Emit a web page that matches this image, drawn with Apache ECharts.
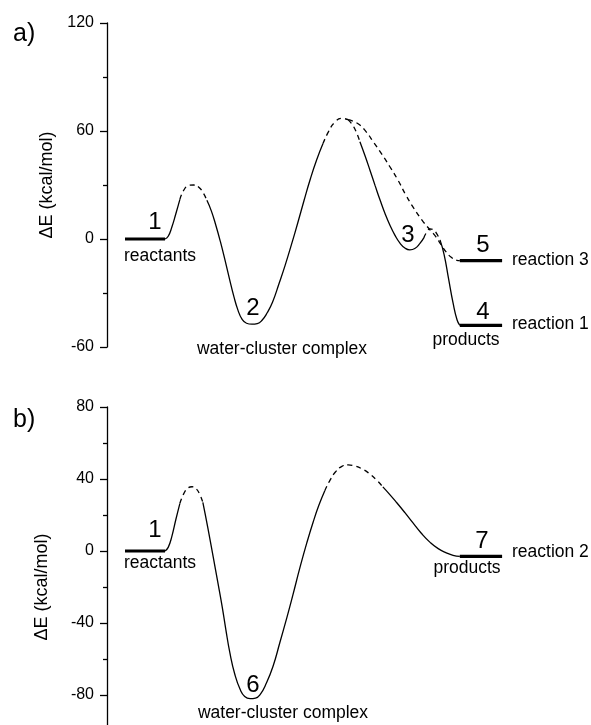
<!DOCTYPE html>
<html>
<head>
<meta charset="utf-8">
<script src="https://cdn.jsdelivr.net/npm/echarts@6/dist/echarts.min.js"></script>
<style>
  html, body { margin: 0; padding: 0; background: #fff; }
  #chart { width: 591px; height: 725px; }
</style>
</head>
<body>
<div id="chart"></div>
<script>
// reaction coordinate (0..100), energy in kcal/mol

// panel a) reactions 1 and 3
const aReactants = [[4.0, 0], [12.9, 0]]
const aLevel4 = [[78.4, -48], [87.8, -48]]
const aLevel5 = [[78.4, -12], [87.8, -12]]

const aRise1 = [[12.9, 0], [13.6, 1.5], [14.4, 6.5], [15.3, 14], [16.2, 22]]
const aTs1 = [[16.2, 22], [17.1, 27.3], [18.2, 29.8], [19.3, 30], [20.4, 28.8], [21.4, 25.5], [22.2, 21.5]]
const aWell2 = [[22.2, 21.5], [23.2, 15.5], [24.2, 7.5], [25.2, -1.5], [26.2, -11.5], [27.2, -22],
  [28.2, -32], [29.1, -39.5], [30.0, -44.5], [31.0, -46.8], [32.2, -47.3], [33.4, -47], [34.5, -45],
  [35.6, -41], [36.8, -35], [38.2, -25], [39.6, -14.5], [41.0, -3], [42.4, 9], [43.8, 21.5],
  [45.2, 33.5], [46.6, 44], [48.0, 53]]
const aTs2 = [[48.0, 53], [49.2, 59.5], [50.6, 64.8], [52.2, 67], [53.6, 66.3]]
const aTs2r1 = [[53.6, 66.3], [54.9, 62], [56.2, 54]]
const aWell3 = [[56.2, 54], [57.3, 46.5], [58.4, 38.5], [59.6, 29.5], [60.7, 21.5], [61.8, 14],
  [62.9, 7.5], [64.0, 2], [65.1, -2.3], [66.2, -5], [67.3, -6], [68.4, -5.3], [69.5, -2.6], [70.4, 0.6]]
const aTs3 = [[70.4, 0.6], [71.1, 4], [71.8, 5.6], [72.6, 5], [73.3, 2.8], [74.0, -0.5]]
const aDrop4 = [[74.0, -0.5], [74.9, -8.5], [75.9, -22], [76.9, -35.5], [77.8, -45], [78.4, -48]]
const aPath5 = [[53.6, 66.3], [55.8, 64], [57.6, 59.5], [59.3, 53.5], [61.1, 47], [62.9, 40], [64.7, 32.5],
  [66.4, 24.5], [68.2, 17], [70.0, 10.5], [71.8, 5], [73.1, 1.2], [74.2, -3], [75.3, -7],
  [76.5, -10.2], [77.6, -11.7], [78.4, -12]]

// panel b) reaction 2
const bReactants = [[4.0, 0], [12.9, 0]]
const bLevel7 = [[78.4, -3], [87.8, -3]]

const bRise1 = [[12.9, 0], [13.6, 2], [14.4, 8], [15.3, 17.5], [16.2, 26.5]]
const bTs1 = [[16.2, 26.5], [17.1, 32], [18.0, 35], [18.9, 35.7], [19.8, 34.6], [20.6, 31.5], [21.3, 27]]
const bWell6 = [[21.3, 27], [22.4, 13], [23.6, -3.3], [24.6, -17], [25.6, -31], [26.4, -43.5],
  [27.3, -56.5], [28.4, -68.5], [29.6, -77], [30.6, -80.8], [31.8, -82], [33.0, -81.7], [34.1, -79.5],
  [35.4, -73.5], [36.9, -64], [38.4, -51], [40.0, -36.7], [41.3, -24.5], [42.9, -9], [44.4, 4.5],
  [45.8, 16], [47.1, 25.5], [48.4, 33.5]]
const bTs2 = [[48.4, 33.5], [49.6, 39.5], [50.8, 44], [52.2, 47], [53.6, 47.8], [55.1, 47.2], [56.7, 45.6],
  [58.2, 43.2], [59.8, 39.7], [61.3, 35.6]]
const bDrop7 = [[61.3, 35.6], [62.9, 31.2], [64.4, 26.8], [66.2, 21.3], [68.0, 15.6], [69.8, 10],
  [71.8, 4.8], [73.6, 1.3], [75.4, -1], [76.9, -2.4], [78.4, -3]]

const yTicksA = [-60, 0, 60, 120]
const yTicksB = [-120, -80, -40, 0, 40, 80]

const FONT = 'Liberation Sans, Arial, sans-serif'

function curve (data, grid, dashed) {
  return {
    type: 'line',
    xAxisIndex: grid,
    yAxisIndex: grid,
    data: data,
    smooth: 0.5,
    clip: false,
    symbol: 'none',
    silent: true,
    lineStyle: { color: '#000', width: 1.3, type: dashed ? [5, 4] : 'solid' }
  }
}

function level (data, grid) {
  return {
    type: 'line',
    xAxisIndex: grid,
    yAxisIndex: grid,
    data: data,
    symbol: 'none',
    silent: true,
    lineStyle: { color: '#000', width: 3.2, cap: 'butt' }
  }
}

function yAxis (grid, ticks) {
  return {
    type: 'value',
    gridIndex: grid,
    min: ticks[0],
    max: ticks[ticks.length - 1],
    interval: ticks[1] - ticks[0],
    name: 'ΔE (kcal/mol)',
    nameLocation: 'middle',
    nameGap: 36,
    nameTextStyle: { color: '#000', fontSize: 18, fontFamily: FONT },
    axisLine: { show: true, lineStyle: { color: '#000', width: 1.3 } },
    axisTick: { show: true, inside: false, length: 7, lineStyle: { color: '#000', width: 1.3 } },
    minorTick: { show: true, splitNumber: 2, length: 4, lineStyle: { color: '#000', width: 1.3 } },
    splitLine: { show: false },
    axisLabel: { color: '#000', fontSize: 16, fontFamily: FONT, margin: 13 }
  }
}

function xAxis (grid) {
  return { type: 'value', gridIndex: grid, min: 0, max: 100, show: false }
}

function txt (x, y, s, size, align) {
  return {
    type: 'text',
    x: x,
    y: y,
    silent: true,
    style: {
      text: s,
      fill: '#000',
      font: size + 'px ' + FONT,
      align: align || 'center',
      verticalAlign: 'middle'
    }
  }
}

const chart = echarts.init(document.getElementById('chart'), null, { renderer: 'canvas' })
chart.setOption({
  animation: false,
  backgroundColor: '#fff',
  grid: [
    { left: 107, top: 23, width: 450, height: 324, outerBoundsMode: 'none' },
    { left: 107, top: 407, width: 450, height: 360, outerBoundsMode: 'none' }
  ],
  xAxis: [xAxis(0), xAxis(1)],
  yAxis: [yAxis(0, yTicksA), yAxis(1, yTicksB)],
  series: [
    level(aReactants, 0),
    level(aLevel4, 0),
    level(aLevel5, 0),
    curve(aRise1, 0, false),
    curve(aTs1, 0, true),
    curve(aWell2, 0, false),
    curve(aTs2, 0, true),
    curve(aTs2r1, 0, true),
    curve(aWell3, 0, false),
    curve(aTs3, 0, true),
    curve(aDrop4, 0, false),
    curve(aPath5, 0, true),
    level(bReactants, 1),
    level(bLevel7, 1),
    curve(bRise1, 1, false),
    curve(bTs1, 1, true),
    curve(bWell6, 1, false),
    curve(bTs2, 1, true),
    curve(bDrop7, 1, false)
  ],
  graphic: [
    txt(13, 34, 'a)', 25, 'left'),
    txt(155, 222, '1', 24),
    txt(160, 256, 'reactants', 17.5),
    txt(253, 308, '2', 24),
    txt(282, 349, 'water-cluster complex', 17.5),
    txt(408, 235, '3', 24),
    txt(483, 245, '5', 24),
    txt(512, 260, 'reaction 3', 17.5, 'left'),
    txt(483, 312, '4', 24),
    txt(512, 324, 'reaction 1', 17.5, 'left'),
    txt(466, 340, 'products', 17.5),
    txt(13, 420, 'b)', 25, 'left'),
    txt(155, 530, '1', 24),
    txt(160, 563, 'reactants', 17.5),
    txt(253, 685, '6', 24),
    txt(283, 713, 'water-cluster complex', 17.5),
    txt(482, 541, '7', 24),
    txt(467, 568, 'products', 17.5),
    txt(512, 552, 'reaction 2', 17.5, 'left')
  ]
})
</script>
</body>
</html>
